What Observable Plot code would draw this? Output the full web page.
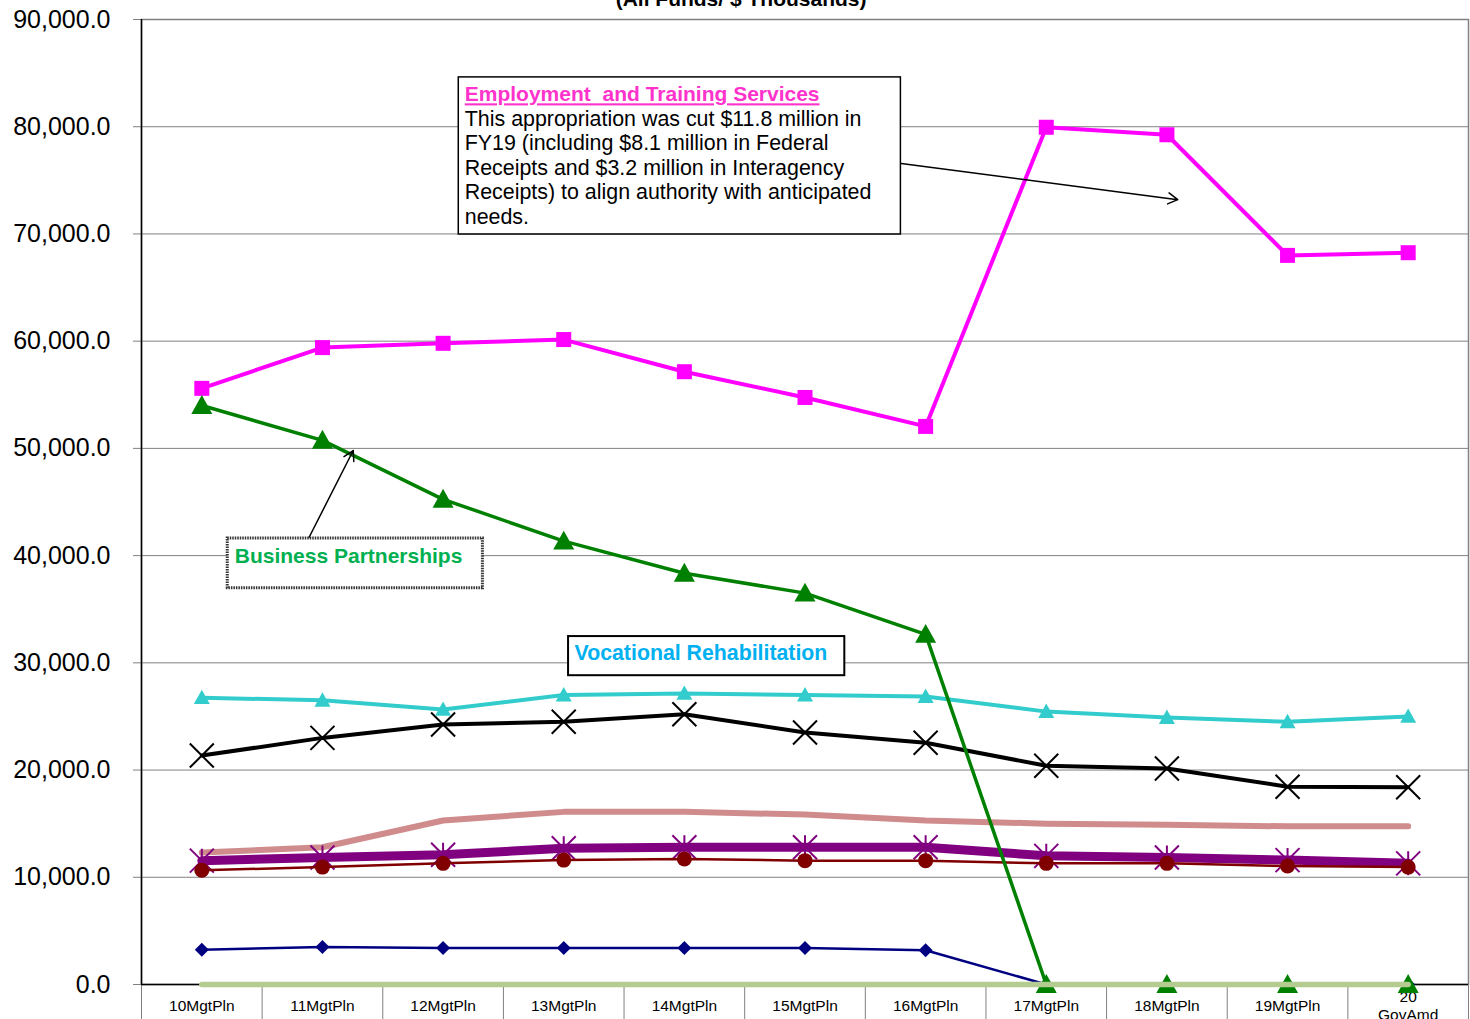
<!DOCTYPE html>
<html>
<head>
<meta charset="utf-8">
<script src="https://cdn.jsdelivr.net/npm/d3@7"></script>
<script src="https://cdn.jsdelivr.net/npm/@observablehq/plot@0.6"></script>
<style>
  html, body { margin: 0; padding: 0; background: #fff; }
  #chart { width: 1470px; height: 1019px; overflow: hidden; }
</style>
</head>
<body>
<div id="chart"></div>
<script>
// Plan years on the x axis
const categories = ["10MgtPln", "11MgtPln", "12MgtPln", "13MgtPln", "14MgtPln", "15MgtPln",
                    "16MgtPln", "17MgtPln", "18MgtPln", "19MgtPln", "20\nGovAmd"];

// Component totals, all funds, $ thousands
const employmentTraining   = [55600, 59400, 59800, 60150, 57150, 54750, 52050, 79950, 79250, 68000, 68250];
const businessPartnerships = [54000, 50750, 45250, 41350, 38350, 36500, 32650, 0, 0, 0, 0];
const vocationalRehab      = [26750, 26500, 25650, 27000, 27150, 27000, 26850, 25450, 24900, 24500, 25000];
const blackSeries          = [21350, 23000, 24250, 24500, 25200, 23500, 22550, 20400, 20150, 18450, 18400];
const roseSeries           = [12300, 12800, 15300, 16100, 16100, 15850, 15300, 15000, 14900, 14750, 14750];
const purpleSeries         = [11550, 11850, 12100, 12700, 12800, 12800, 12800, 12000, 11850, 11600, 11300];
const maroonSeries         = [10650, 10950, 11300, 11600, 11700, 11550, 11550, 11300, 11300, 11050, 10950];
const navySeries           = [3250, 3500, 3400, 3400, 3400, 3400, 3200, 0, 0, 0, 0];
const sageSeries           = [0, 0, 0, 0, 0, 0, 0, 0, 0, 0, 0];

const yTicks = [0, 10000, 20000, 30000, 40000, 50000, 60000, 70000, 80000, 90000];

// Callout boxes and arrows, in data units (x = category index, y = $ thousands)
const etsBox = [{x1: 2.13, x2: 5.795, y1: 69950, y2: 84600}];
const etsArrow = [{x1: 5.75, y1: 76650, x2: 8.09, y2: 73200}];
const bpBox = [{x1: 0.215, x2: 2.33, y1: 36950, y2: 41600}];
const bpArrow = [{x1: 0.88, y1: 41500, x2: 1.255, y2: 49800}];
const vrBox = [{x1: 3.04, x2: 5.33, y1: 28800, y2: 32450}];

const rows = values => values.map((v, i) => ({i, v}));
const half = s => Math.sqrt(s / Math.PI);

// Marker shapes sized by half-width in pixels
const symbols = {
  square: {draw(c, s) { const r = half(s); c.rect(-r, -r, 2 * r, 2 * r); }},
  triangle: {draw(c, s) { const r = half(s); c.moveTo(0, -r); c.lineTo(r, r * 0.8); c.lineTo(-r, r * 0.8); c.closePath(); }},
  diamond: {draw(c, s) { const r = half(s); c.moveTo(0, -r); c.lineTo(r, 0); c.lineTo(0, r); c.lineTo(-r, 0); c.closePath(); }},
  cross: {draw(c, s) { const r = half(s); c.moveTo(-r, -r); c.lineTo(r, r); c.moveTo(r, -r); c.lineTo(-r, r); }},
  star: {draw(c, s) { const r = half(s); c.moveTo(-r, -r); c.lineTo(r, r); c.moveTo(r, -r); c.lineTo(-r, r); c.moveTo(0, -r); c.lineTo(0, r); }}
};

function series(values, color, width, marker) {
  const data = rows(values);
  const marks = [Plot.line(data, {x: "i", y: "v", stroke: color, strokeWidth: width, strokeLinejoin: "round"})];
  if (marker) {
    const filled = marker.fill !== false;
    marks.push(Plot.dot(data, {
      x: "i", y: "v", r: marker.r, symbol: marker.symbol,
      fill: filled ? color : "none",
      stroke: filled ? "none" : color,
      strokeWidth: filled ? 0 : marker.strokeWidth || 2
    }));
  }
  return marks;
}

const font = "'Liberation Sans', Arial, Helvetica, sans-serif";

const plot = Plot.plot({
  width: 1470,
  height: 1019,
  marginLeft: 141,
  marginRight: 2,
  marginTop: 19,
  marginBottom: 35,
  style: {fontFamily: font, background: "white", overflow: "visible"},
  x: {type: "linear", domain: [-0.5, 10.5], axis: null},
  y: {domain: [0, 90000], axis: null},
  marks: [
    Plot.gridY(yTicks, {stroke: "#808080", strokeOpacity: 1, strokeWidth: 1}),
    Plot.frame({stroke: "#808080", strokeWidth: 1.5}),
    Plot.axisY({ticks: yTicks, tickFormat: d3.format(",.1f"), tickSize: 8, tickPadding: 23,
                fontSize: 25, stroke: "#808080", fill: "black"}),
    Plot.axisX({ticks: d3.range(-0.5, 11, 1), tickSize: 40, tickFormat: () => "", stroke: "#808080"}),
    Plot.axisX({ticks: d3.range(0, 11), tickFormat: i => categories[i], tickSize: 0, tickPadding: 21,
                lineAnchor: "middle", lineHeight: 1.16, fontSize: 15.5, fill: "black"}),
    Plot.ruleX([-0.5], {stroke: "black", strokeWidth: 1.5}),
    Plot.ruleY([0], {stroke: "black", strokeWidth: 1.5}),

    ...series(roseSeries, "#D08C8C", 6),
    ...series(purpleSeries, "#800080", 9, {symbol: symbols.star, r: 12, fill: false, strokeWidth: 2}),
    ...series(maroonSeries, "#800000", 2.5, {symbol: "circle", r: 7.5}),
    ...series(navySeries, "#000080", 2.5, {symbol: symbols.diamond, r: 7}),
    ...series(blackSeries, "black", 4, {symbol: symbols.cross, r: 12, fill: false, strokeWidth: 2}),
    ...series(vocationalRehab, "#33CCCC", 4, {symbol: symbols.triangle, r: 8}),
    ...series(employmentTraining, "#FF00FF", 4, {symbol: symbols.square, r: 7.5}),
    ...series(businessPartnerships, "#008000", 3.5, {symbol: symbols.triangle, r: 10.5}),
    ...series(sageSeries, "#B5CC90", 5.5),

    // Title line
    Plot.text(["(All Funds/ $ Thousands)"], {x: () => 4.47, frameAnchor: "top", dy: -14, lineAnchor: "bottom",
      fontWeight: "bold", fontSize: 21, fill: "black"}),

    // Employment and Training Services callout
    Plot.arrow(etsArrow, {x1: "x1", y1: "y1", x2: "x2", y2: "y2", stroke: "black", strokeWidth: 1.5,
      headLength: 11, headAngle: 60}),
    Plot.rect(etsBox, {x1: "x1", x2: "x2", y1: "y1", y2: "y2", fill: "white", stroke: "black", strokeWidth: 1.5}),
    Plot.text(etsBox, {x: "x1", y: "y2", dx: 6, dy: 9, textAnchor: "start", lineAnchor: "top",
      text: () => "Employment  and Training Services", fontWeight: "bold", fontSize: 21, fill: "#FF33CC",
      render(index, scales, values, dimensions, context, next) {
        const g = next(index, scales, values, dimensions, context);
        g.querySelectorAll("text").forEach(t => t.setAttribute("text-decoration", "underline"));
        return g;
      }}),
    Plot.text(etsBox, {x: "x1", y: "y2", dx: 6, dy: 31, textAnchor: "start", lineAnchor: "top",
      lineHeight: 1.145, fontSize: 21.4, fill: "black",
      text: () => "This appropriation was cut $11.8 million in\nFY19 (including $8.1 million in Federal\nReceipts and $3.2 million in Interagency\nReceipts) to align authority with anticipated\nneeds."}),

    // Business Partnerships callout
    Plot.arrow(bpArrow, {x1: "x1", y1: "y1", x2: "x2", y2: "y2", stroke: "black", strokeWidth: 1.5,
      headLength: 11, headAngle: 60}),
    Plot.rect(bpBox, {x1: "x1", x2: "x2", y1: "y1", y2: "y2", fill: "white", stroke: "#333",
      strokeWidth: 3, strokeDasharray: "1.5 1"}),
    Plot.text(bpBox, {x: "x1", y: "y2", dx: 7, dy: 10, textAnchor: "start", lineAnchor: "top",
      text: () => "Business Partnerships", fontWeight: "bold", fontSize: 21, fill: "#00B050"}),

    // Vocational Rehabilitation label
    Plot.rect(vrBox, {x1: "x1", x2: "x2", y1: "y1", y2: "y2", fill: "white", stroke: "black", strokeWidth: 2}),
    Plot.text(vrBox, {x: "x1", y: "y2", dx: 6, dy: 8, textAnchor: "start", lineAnchor: "top",
      text: () => "Vocational Rehabilitation", fontWeight: "bold", fontSize: 21.3, fill: "#00B0F0"})
  ]
});

document.getElementById("chart").appendChild(plot);
</script>
</body>
</html>
